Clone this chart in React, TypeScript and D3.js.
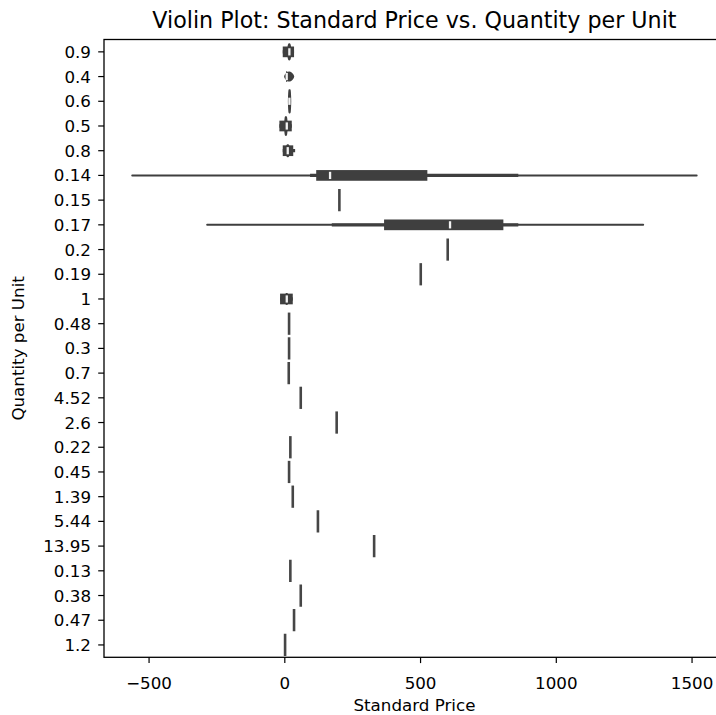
import React from "react";
import * as d3 from "d3";

// Categories top to bottom (Quantity per Unit)
const categories = ["0.9","0.4","0.6","0.5","0.8","0.14","0.15","0.17","0.2","0.19","1","0.48","0.3","0.7","4.52","2.6","0.22","0.45","1.39","5.44","13.95","0.13","0.38","0.47","1.2"];

// Groups with several observations: violin extent, whiskers, box, median (Standard Price)
const boxGroups = ["0.9","0.4","0.6","0.5","0.8","0.14","0.17","1"];
const violinLow = [12, 1, 15, 1, 6, -562, -286, 2];
const violinHigh = [21, 31, 20, 7, 16, 1517, 1320, 12];
const violinPeak = [0.68, 0.36, 1.0, 0.8, 0.5, 0.0, 0.0, 0.45];
const whiskerLow = [-7.6, 5, 16, -20, -7.6, 93, 173, -17.5];
const whiskerHigh = [34, 9, 18, 25.6, 38, 860, 860, 29.3];
const q1 = [-7.6, 5, 16, -20, -7.6, 115.6, 365.6, -17.5];
const q3 = [34, 9, 18, 25.6, 31, 525, 805, 29.3];
const medians = [16.8, 7, 17, 7.2, 10.8, 166.7, 608.6, 7.2];

// Groups with a single observation
const singleGroups = ["0.15","0.2","0.19","0.48","0.3","0.7","4.52","2.6","0.22","0.45","1.39","5.44","13.95","0.13","0.38","0.47","1.2"];
const singleValues = [201, 600, 500.7, 15.7, 15.7, 14.5, 58.7, 191, 20.4, 15.7, 29.3, 122, 329, 20.4, 58.7, 34, 1];

const xTicks = [-500, 0, 500, 1000, 1500];
const xDomain = [-666, 1621];

const title = "Violin Plot: Standard Price vs. Quantity per Unit";
const xLabel = "Standard Price";
const yLabel = "Quantity per Unit";

const W = 716, H = 715;
const M = { left: 104, top: 39.5, right: 724.9, bottom: 657.3 };
const INK = "#3f3f3f";
const FONT = "DejaVu Sans";

export default function App() {
  const x = d3.scaleLinear().domain(xDomain).range([M.left, M.right]);
  const y = d3.scaleBand().domain(categories).range([M.top, M.bottom]);
  const bw = y.bandwidth();
  const half = bw * 0.45;
  const cy = (c: string) => (y(c) as number) + bw / 2;

  const samples = d3.range(0, 1.0001, 1 / 40);
  const violinPath = (i: number) => {
    const lo = violinLow[i], hi = violinHigh[i], pk = violinPeak[i] * half;
    const c = cy(boxGroups[i]);
    const area = d3
      .area<number>()
      .x((t) => x(lo + t * (hi - lo)))
      .y0((t) => c - pk * Math.pow(Math.sin(Math.PI * t), 0.7))
      .y1((t) => c + pk * Math.pow(Math.sin(Math.PI * t), 0.7));
    return area(samples) as string;
  };

  const fmt = (v: number) => (v < 0 ? "\u2212" + Math.abs(v) : String(v));

  return (
    <svg width={W} height={H} style={{ position: "absolute", left: 0, top: 0, background: "#fff" }} fontFamily={FONT}>
      <defs>
        <clipPath id="plotclip">
          <rect x={M.left} y={M.top} width={M.right - M.left} height={M.bottom - M.top} />
        </clipPath>
      </defs>
      <rect x={0} y={0} width={W} height={H} fill="#fff" />
      <g clipPath="url(#plotclip)">
        {boxGroups.map((g, i) => (
          <g key={g}>
            <path d={violinPath(i)} fill={INK} stroke={INK} strokeWidth={2} strokeLinejoin="round" />
            <line x1={x(whiskerLow[i])} x2={x(whiskerHigh[i])} y1={cy(g)} y2={cy(g)} stroke={INK} strokeWidth={3.3} />
            <rect x={x(q1[i])} width={Math.max(0, x(q3[i]) - x(q1[i]))} y={cy(g) - 5.35} height={10.7} fill={INK} />
            <rect x={x(medians[i]) - 1.15} width={2.3} y={cy(g) - 3.6} height={7.2} fill="#f2f2f2" />
          </g>
        ))}
        {singleGroups.map((g, i) => (
          <line key={g} x1={x(singleValues[i])} x2={x(singleValues[i])} y1={cy(g) - half} y2={cy(g) + half} stroke="#464646" strokeWidth={2.6} />
        ))}
      </g>
      <rect x={M.left} y={M.top} width={M.right - M.left} height={M.bottom - M.top} fill="none" stroke="#000" strokeWidth={1.3} />
      {xTicks.map((t) => (
        <g key={t}>
          <line x1={x(t)} x2={x(t)} y1={M.bottom} y2={M.bottom + 5.8} stroke="#000" strokeWidth={1.2} />
          <text x={x(t)} y={689} textAnchor="middle" fontSize={16.7} fill="#000">{fmt(t)}</text>
        </g>
      ))}
      {categories.map((c) => (
        <g key={c}>
          <line x1={M.left - 5.8} x2={M.left} y1={cy(c)} y2={cy(c)} stroke="#000" strokeWidth={1.2} />
          <text x={91} y={cy(c)} dy="0.36em" textAnchor="end" fontSize={16.7} fill="#000">{c}</text>
        </g>
      ))}
      <text x={(M.left + M.right) / 2} y={711} textAnchor="middle" fontSize={16.7} fill="#000">{xLabel}</text>
      <text transform={`translate(24,${(M.top + M.bottom) / 2}) rotate(-90)`} textAnchor="middle" fontSize={16.7} fill="#000">{yLabel}</text>
      <text x={(M.left + M.right) / 2} y={28} textAnchor="middle" fontSize={22.2} fill="#000">{title}</text>
    </svg>
  );
}
